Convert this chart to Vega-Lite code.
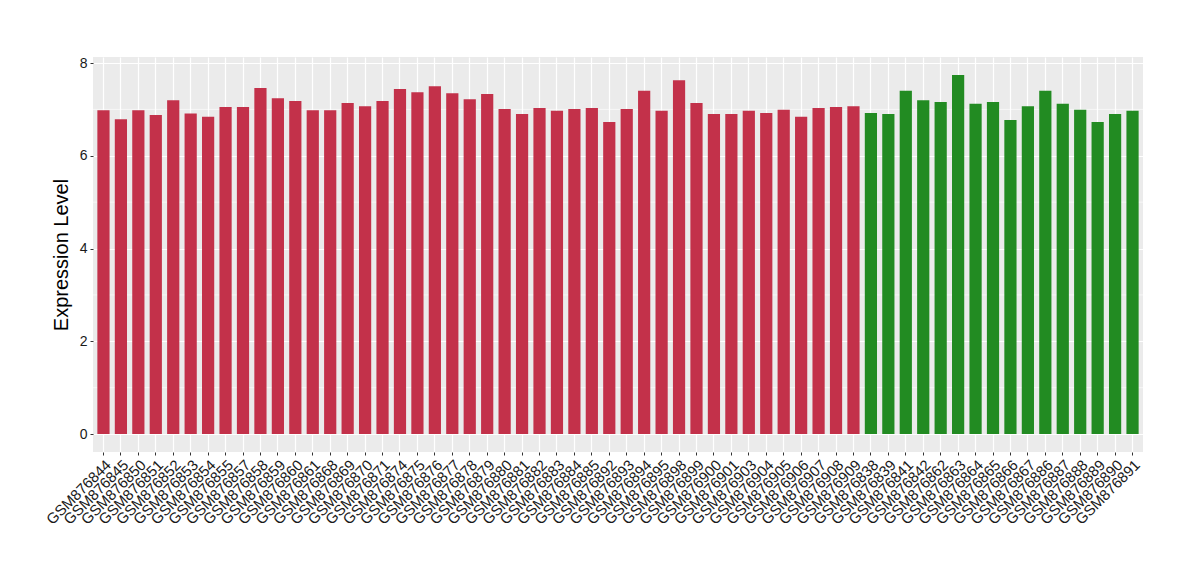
{
  "$schema": "https://vega.github.io/schema/vega-lite/v6.json",
  "autosize": "none",
  "padding": {"left": 93, "top": 57, "right": 57, "bottom": 128},
  "width": 1050,
  "height": 395,
  "background": "white",
  "config": {
    "view": {"fill": "#EBEBEB", "stroke": null},
    "font": "Liberation Sans"
  },
  "datasets": {
    "expr": [
      {"sample": "GSM876844", "value": 6.98, "group": "A"},
      {"sample": "GSM876845", "value": 6.79, "group": "A"},
      {"sample": "GSM876850", "value": 6.98, "group": "A"},
      {"sample": "GSM876851", "value": 6.88, "group": "A"},
      {"sample": "GSM876852", "value": 7.20, "group": "A"},
      {"sample": "GSM876853", "value": 6.91, "group": "A"},
      {"sample": "GSM876854", "value": 6.84, "group": "A"},
      {"sample": "GSM876855", "value": 7.05, "group": "A"},
      {"sample": "GSM876857", "value": 7.05, "group": "A"},
      {"sample": "GSM876858", "value": 7.46, "group": "A"},
      {"sample": "GSM876859", "value": 7.24, "group": "A"},
      {"sample": "GSM876860", "value": 7.18, "group": "A"},
      {"sample": "GSM876861", "value": 6.98, "group": "A"},
      {"sample": "GSM876868", "value": 6.98, "group": "A"},
      {"sample": "GSM876869", "value": 7.14, "group": "A"},
      {"sample": "GSM876870", "value": 7.07, "group": "A"},
      {"sample": "GSM876871", "value": 7.18, "group": "A"},
      {"sample": "GSM876874", "value": 7.44, "group": "A"},
      {"sample": "GSM876875", "value": 7.37, "group": "A"},
      {"sample": "GSM876876", "value": 7.50, "group": "A"},
      {"sample": "GSM876877", "value": 7.35, "group": "A"},
      {"sample": "GSM876878", "value": 7.22, "group": "A"},
      {"sample": "GSM876879", "value": 7.33, "group": "A"},
      {"sample": "GSM876880", "value": 7.01, "group": "A"},
      {"sample": "GSM876881", "value": 6.90, "group": "A"},
      {"sample": "GSM876882", "value": 7.03, "group": "A"},
      {"sample": "GSM876883", "value": 6.97, "group": "A"},
      {"sample": "GSM876884", "value": 7.01, "group": "A"},
      {"sample": "GSM876885", "value": 7.03, "group": "A"},
      {"sample": "GSM876892", "value": 6.73, "group": "A"},
      {"sample": "GSM876893", "value": 7.01, "group": "A"},
      {"sample": "GSM876894", "value": 7.40, "group": "A"},
      {"sample": "GSM876895", "value": 6.97, "group": "A"},
      {"sample": "GSM876898", "value": 7.63, "group": "A"},
      {"sample": "GSM876899", "value": 7.14, "group": "A"},
      {"sample": "GSM876900", "value": 6.90, "group": "A"},
      {"sample": "GSM876901", "value": 6.90, "group": "A"},
      {"sample": "GSM876903", "value": 6.97, "group": "A"},
      {"sample": "GSM876904", "value": 6.92, "group": "A"},
      {"sample": "GSM876905", "value": 6.99, "group": "A"},
      {"sample": "GSM876906", "value": 6.84, "group": "A"},
      {"sample": "GSM876907", "value": 7.03, "group": "A"},
      {"sample": "GSM876908", "value": 7.05, "group": "A"},
      {"sample": "GSM876909", "value": 7.07, "group": "A"},
      {"sample": "GSM876838", "value": 6.92, "group": "B"},
      {"sample": "GSM876839", "value": 6.90, "group": "B"},
      {"sample": "GSM876841", "value": 7.40, "group": "B"},
      {"sample": "GSM876842", "value": 7.20, "group": "B"},
      {"sample": "GSM876862", "value": 7.16, "group": "B"},
      {"sample": "GSM876863", "value": 7.74, "group": "B"},
      {"sample": "GSM876864", "value": 7.12, "group": "B"},
      {"sample": "GSM876865", "value": 7.16, "group": "B"},
      {"sample": "GSM876866", "value": 6.77, "group": "B"},
      {"sample": "GSM876867", "value": 7.07, "group": "B"},
      {"sample": "GSM876886", "value": 7.40, "group": "B"},
      {"sample": "GSM876887", "value": 7.12, "group": "B"},
      {"sample": "GSM876888", "value": 6.99, "group": "B"},
      {"sample": "GSM876889", "value": 6.73, "group": "B"},
      {"sample": "GSM876890", "value": 6.90, "group": "B"},
      {"sample": "GSM876891", "value": 6.97, "group": "B"}
    ],
    "minor": [{"v": 1}, {"v": 3}, {"v": 5}, {"v": 7}]
  },
  "layer": [
    {
      "data": {"name": "minor"},
      "mark": {"type": "rule", "color": "white", "strokeWidth": 0.6},
      "encoding": {
        "y": {"field": "v", "type": "quantitative", "scale": {"domain": [-0.387, 8.13], "nice": false, "zero": false}}
      }
    },
    {
      "data": {"name": "expr"},
      "mark": {"type": "bar"},
      "encoding": {
        "x": {
          "field": "sample",
          "type": "nominal",
          "sort": null,
          "scale": {"paddingInner": 0.3, "paddingOuter": 0.25},
          "axis": {
            "title": null,
            "bandPosition": 0.5,
            "grid": true,
            "gridColor": "white",
            "gridWidth": 1.2,
            "domain": false,
            "tickColor": "#333333",
            "tickSize": 3,
            "labelAngle": -45,
            "labelAlign": "right",
            "labelBaseline": "top",
            "labelFontSize": 15,
            "labelColor": "#1a1a1a",
            "labelPadding": 2,
            "labelOverlap": false
          }
        },
        "y": {
          "field": "value",
          "type": "quantitative",
          "scale": {"domain": [-0.387, 8.13], "nice": false, "zero": false},
          "axis": {
            "title": "Expression Level",
            "titleFontSize": 20,
            "titleFontWeight": "normal",
            "titleColor": "black",
            "titlePadding": 8,
            "values": [0, 2, 4, 6, 8],
            "grid": true,
            "gridColor": "white",
            "gridWidth": 1.2,
            "domain": false,
            "tickColor": "#333333",
            "tickSize": 3,
            "labelFontSize": 14,
            "labelColor": "#1a1a1a",
            "labelPadding": 3
          }
        },
        "color": {
          "field": "group",
          "type": "nominal",
          "scale": {"domain": ["A", "B"], "range": ["#C3314A", "#228B22"]},
          "legend": null
        }
      }
    }
  ]
}
